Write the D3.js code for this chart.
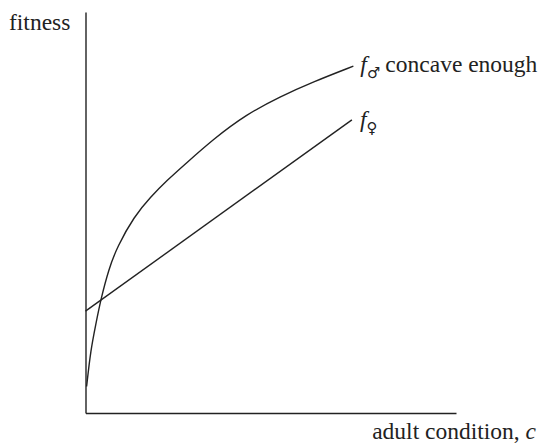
<!DOCTYPE html>
<html>
<head>
<meta charset="utf-8">
<script src="https://cdn.jsdelivr.net/npm/d3@7"></script>
<style>
  html, body { margin: 0; padding: 0; background: #fff; }
  svg { display: block; }
</style>
</head>
<body>
<svg id="chart" width="544" height="443"></svg>
<script>
// Data (arbitrary units, condition c on x, fitness on y)
const maleC       = [0.03, 0.14, 0.28, 0.41, 0.63, 0.86, 1.31, 1.76, 2.21, 2.66, 3.45, 4.35, 5.25, 6.15, 7.23];
const maleFitness = [0.66, 1.57, 2.22, 2.82, 3.60, 4.15, 4.90, 5.39, 5.81, 6.18, 6.83, 7.45, 7.89, 8.26, 8.65];
const femaleC       = [0.00, 7.19];
const femaleFitness = [2.54, 7.31];
const xDomain = [0, 10];
const yDomain = [0, 10];
const yAxisLabel = "fitness";
const xAxisLabel = "adult condition, ";
const xAxisVar = "c";
const maleLabel = "concave enough";

const serif = "Liberation Serif";
const svg = d3.select("#chart");
const x = d3.scaleLinear().domain(xDomain).range([85.5, 456]);
const y = d3.scaleLinear().domain(yDomain).range([413, 12]);

const ink = "#222";

// axes (no ticks)
const gx = svg.append("g").attr("transform", `translate(0,${y(0)})`)
  .call(d3.axisBottom(x).tickValues([]).tickSizeOuter(0));
const gy = svg.append("g").attr("transform", `translate(${x(0)},0)`)
  .call(d3.axisLeft(y).tickValues([]).tickSizeOuter(0));
[gx, gy].forEach(g => g.select(".domain").attr("stroke", ink).attr("stroke-width", 1.4));

svg.append("path")
  .datum(d3.zip(maleC, maleFitness))
  .attr("fill", "none").attr("stroke", ink).attr("stroke-width", 1.4)
  .attr("d", d3.line().x(d => x(d[0])).y(d => y(d[1])).curve(d3.curveBasis));

svg.append("path")
  .datum(d3.zip(femaleC, femaleFitness))
  .attr("fill", "none").attr("stroke", ink).attr("stroke-width", 1.4)
  .attr("d", d3.line().x(d => x(d[0])).y(d => y(d[1])));

// labels
const fs = 23.5;
function txt(xp, yp) {
  return svg.append("text").attr("x", xp).attr("y", yp)
    .attr("font-family", serif)
    .attr("font-size", fs).attr("fill", ink);
}
txt(9, 30).text(yAxisLabel);

const xl = txt(536, 439).attr("text-anchor", "end");
xl.append("tspan").text(xAxisLabel);
xl.append("tspan").attr("font-style", "italic").text(xAxisVar);

const lastM = maleC.length - 1;
const ml = txt(x(maleC[lastM]) + 7, 72);
ml.append("tspan").attr("font-style", "italic").text("f");
ml.append("tspan").attr("font-size", 15).attr("dy", 6).attr("font-family", "DejaVu Sans").text("\u2642");
ml.append("tspan").attr("dy", -6).attr("dx", 5).text(maleLabel);

const fl = txt(x(femaleC[1]) + 8, 127);
fl.append("tspan").attr("font-style", "italic").text("f");
fl.append("tspan").attr("font-size", 15).attr("dy", 6).attr("font-family", "DejaVu Sans").text("\u2640");
</script>
</body>
</html>
